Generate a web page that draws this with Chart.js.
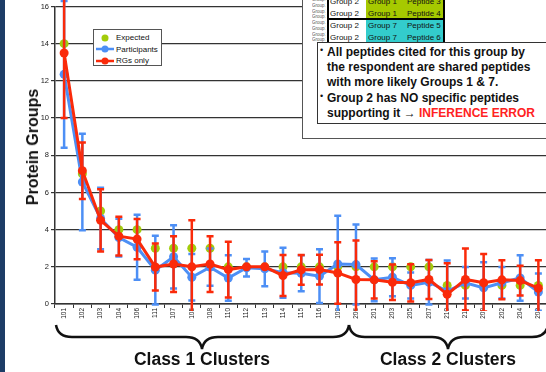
<!DOCTYPE html>
<html>
<head>
<meta charset="utf-8">
<script src="https://cdn.jsdelivr.net/npm/chart.js@4.4.1/dist/chart.umd.min.js"></script>
<style>
  body { margin:0; width:546px; height:372px; overflow:hidden; background:#fff; position:relative;
         font-family:"Liberation Sans", Arial, sans-serif; color:#111; }
  #chart { position:absolute; left:0; top:0; }
  .edge { position:absolute; left:0; top:0; width:5px; height:372px; background:#1d3c66; }
  .ytitle { position:absolute; left:33px; top:147px; transform:translate(-50%,-50%) rotate(-90deg);
            font-weight:bold; font-size:16px; white-space:nowrap; }
  .legend { position:absolute; left:93px; top:29px; width:69px; height:37px; box-sizing:border-box;
            border:1.5px solid #555; background:#fff; padding-top:2px; }
  .legend .item { height:11.5px; display:flex; align-items:center; font-size:8px; white-space:nowrap; }
  .legend svg { margin-left:1px; margin-right:1px; }
  .outer { position:absolute; left:302px; top:-2px; width:260px; height:141px; box-sizing:border-box;
           border:1px solid #555; background:#fff; }
  .tiny { position:absolute; left:312px; top:-3px; width:14px; overflow:hidden; font-size:4.5px;
          line-height:5.75px; color:#555; white-space:nowrap; }
  .tbl { position:absolute; left:327px; width:118px; box-sizing:border-box; border:2px solid #000;
         background:#fff; }
  .tbl .row { position:relative; height:11.5px; font-size:8px; line-height:11.5px; white-space:nowrap; }
  .tbl .fill { position:absolute; left:37px; right:0; top:0; bottom:0; }
  .tbl span { position:absolute; top:0; }
  .callout { position:absolute; left:317px; top:42px; width:232px; height:82px; box-sizing:border-box;
             border:1.5px solid #333; background:#fff; padding:2px 0 0 9px; font-weight:bold;
             font-size:12px; line-height:14.8px; white-space:nowrap; }
  .callout p { margin:0 0 2px 0; position:relative; }
  .callout p::before { content:"•"; position:absolute; left:-7px; top:-2px; font-size:9px; font-weight:normal; }
  .callout .err { color:#ff2222; }
  .callout .arrow { font-weight:normal; }
  svg.braces { position:absolute; left:0; top:0; }
  .cls { position:absolute; top:349px; font-weight:bold; font-size:17.5px; white-space:nowrap;
         transform:translateX(-50%); }
</style>
</head>
<body>
<div class="edge"></div>
<canvas id="chart" width="552" height="372"></canvas>
<div class="ytitle">Protein Groups</div>
<div class="legend" id="legend"></div>

<div class="outer"></div>
<div class="tiny">Group 2<br>Group 2<br>Group 2<br>Group 2<br>Group 2<br>Group 2<br>Group 2<br>Group 2</div>
<div class="tbl" style="top:-6px;height:27px;">
  <div class="row"><div class="fill" style="background:#a6c900"></div><span style="left:1px">Group 2</span><span style="left:39px">Group 1</span><span style="left:78px">Peptide 3</span></div>
  <div class="row"><div class="fill" style="background:#a6c900"></div><span style="left:1px">Group 2</span><span style="left:39px">Group 1</span><span style="left:78px">Peptide 4</span></div>
</div>
<div class="tbl" style="top:18px;height:27px;">
  <div class="row"><div class="fill" style="background:#33cccc"></div><span style="left:1px">Group 2</span><span style="left:39px">Group 7</span><span style="left:78px">Peptide 5</span></div>
  <div class="row"><div class="fill" style="background:#33cccc"></div><span style="left:1px">Group 2</span><span style="left:39px">Group 7</span><span style="left:78px">Peptide 6</span></div>
</div>
<div class="callout">
  <p>All peptides cited for this group by<br>the respondent are shared peptides<br>with more likely Groups 1 &amp; 7.</p>
  <p>Group 2 has NO specific peptides<br>supporting it <span class="arrow">→</span> <span class="err">INFERENCE ERROR</span></p>
</div>

<svg class="braces" width="546" height="372">
  <path d="M56 325 Q58 337 72 337 L186 337 Q200 337 202 349 Q204 337 218 337 L333 337 Q347 337 349 325"
        fill="none" stroke="#111" stroke-width="2.5"/>
  <path d="M349 325 Q351 337 365 337 L432 337 Q446 337 448 349 Q450 337 464 337 L532 337 Q546 337 548 325"
        fill="none" stroke="#111" stroke-width="2.5"/>
</svg>
<div class="cls" style="left:202px">Class 1 Clusters</div>
<div class="cls" style="left:448px">Class 2 Clusters</div>

<script>
// 클러스터 (x축)
const clusters = ["101", "102", "103", "104", "106", "111", "107", "105", "108", "110", "112", "113", "114",
  "115", "116", "109", "206", "201", "203", "205", "207", "210", "211", "209", "202", "204", "208"];

const seriesNames = ["Expected", "Participants", "RGs only"];
const seriesColors = ["#a3cc0a", "#4d8ff5", "#fa2a0a"];

// 기대값
const expected = [14, 7, 5, 4, 4, 3, 3, 3, 3, 2, 2, 2, 2, 2, 2, 2, 2, 2, 2, 2, 2, 1, 1, 1, 1, 1, 1];

// 참가자 평균 + 오차
const participants = [12.35, 6.56, 4.6, 3.57, 3.05, 1.82, 2.54, 1.44, 1.98, 1.4, 1.95, 1.89, 1.68,
  1.65, 1.5, 2.15, 2.12, 1.3, 1.44, 1.0, 1.17, 0.69, 1.14, 0.87, 1.14, 1.4, 0.64];
const participantsErr = [3.95, 2.6, 1.65, 1.02, 1.75, 1.85, 1.7, 1.25, 1.0, 1.22, 0.47, 0.93, 1.35,
  0.97, 1.45, 2.6, 2.15, 1.15, 1.02, 0.7, 1.2, 1.65, 0.85, 1.37, 0.85, 1.22, 1.0];

// RGs only 평균 + 오차
const rgsOnly = [13.5, 7.17, 4.5, 3.65, 3.49, 1.99, 2.15, 2.0, 2.15, 1.85, 2.0, 2.0, 1.53,
  1.84, 1.85, 1.67, 1.32, 1.3, 1.17, 1.14, 1.32, 0.52, 1.32, 1.14, 1.3, 1.26, 0.85];
const rgsErr = [3.5, 1.52, 1.67, 1.04, 1.08, 1.27, 1.5, 2.5, 1.5, 1.5, 0, 0, 1.1,
  0.8, 0.8, 1.65, 2.1, 1.0, 0.95, 1.0, 1.05, 1.67, 1.67, 1.55, 1.05, 0.8, 1.5];

const yTicks = { min: 0, max: 16, step: 2 };
const FONT = "'Liberation Sans', Arial, sans-serif";

// 오차 막대 (스케일 기준으로 그림)
const errorBars = {
  id: "errorBars",
  afterDatasetDraw(chart, args) {
    const ds = chart.data.datasets[args.index];
    if (!ds.errors) return;
    const { ctx, chartArea: area, scales } = chart;
    ctx.save();
    ctx.beginPath();
    ctx.rect(area.left, 0, area.right - area.left, area.bottom + 7);
    ctx.clip();
    ctx.strokeStyle = ds.borderColor;
    ctx.lineWidth = 2.5;
    ds.data.forEach((v, i) => {
      const e = ds.errors[i];
      if (!e) return;
      const x = scales.x.getPixelForValue(i);
      const yHi = scales.y.getPixelForValue(v + e);
      const yLo = scales.y.getPixelForValue(v - e);
      ctx.beginPath();
      ctx.moveTo(x, yHi); ctx.lineTo(x, yLo);
      ctx.moveTo(x - 3.5, yHi); ctx.lineTo(x + 3.5, yHi);
      ctx.moveTo(x - 3.5, yLo); ctx.lineTo(x + 3.5, yLo);
      ctx.stroke();
    });
    ctx.restore();
  },
};

const datasets = [
  {
    label: seriesNames[2], data: rgsOnly, errors: rgsErr, order: 1,
    borderColor: seriesColors[2], backgroundColor: seriesColors[2],
    borderWidth: 3, pointRadius: 4.5, pointBorderWidth: 0,
  },
  {
    label: seriesNames[1], data: participants, errors: participantsErr, order: 2,
    borderColor: seriesColors[1], backgroundColor: seriesColors[1],
    borderWidth: 3, pointRadius: 4.5, pointBorderWidth: 0,
  },
  {
    label: seriesNames[0], data: expected, order: 3, showLine: false,
    borderColor: seriesColors[0], backgroundColor: seriesColors[0],
    pointRadius: 4.5, pointBorderWidth: 0,
  },
];

new Chart(document.getElementById("chart"), {
  type: "line",
  data: { labels: clusters, datasets },
  options: {
    responsive: false,
    animation: false,
    layout: { padding: { top: 4, right: 3, left: 0, bottom: 0 } },
    plugins: { legend: { display: false }, tooltip: { enabled: false } },
    scales: {
      x: {
        offset: true,
        grid: { offset: true, drawOnChartArea: false, color: "#333", tickLength: 4 },
        border: { color: "#333", width: 1.5 },
        ticks: { autoSkip: false, minRotation: 90, maxRotation: 90, padding: 0, color: "#222",
                 font: { size: 6.5, family: FONT } },
        afterFit: (s) => { s.height = 68; },
      },
      y: {
        min: yTicks.min, max: yTicks.max,
        ticks: { stepSize: yTicks.step, padding: 2, color: "#222", font: { size: 7.5, family: FONT } },
        grid: { color: "#333", lineWidth: 1.2, tickLength: 4 },
        border: { color: "#333", width: 1.5 },
        afterFit: (s) => { s.width = 55; },
      },
    },
  },
  plugins: [errorBars],
});

// 범례
const legendEl = document.getElementById("legend");
seriesNames.forEach((name, i) => {
  const line = i === 0 ? "" : `<line x1="1" y1="4" x2="19" y2="4" stroke="${seriesColors[i]}" stroke-width="2.5"/>`;
  legendEl.insertAdjacentHTML("beforeend",
    `<div class="item"><svg width="20" height="8">${line}<circle cx="10" cy="4" r="3.5" fill="${seriesColors[i]}"/></svg>${name}</div>`);
});
</script>
</body>
</html>
